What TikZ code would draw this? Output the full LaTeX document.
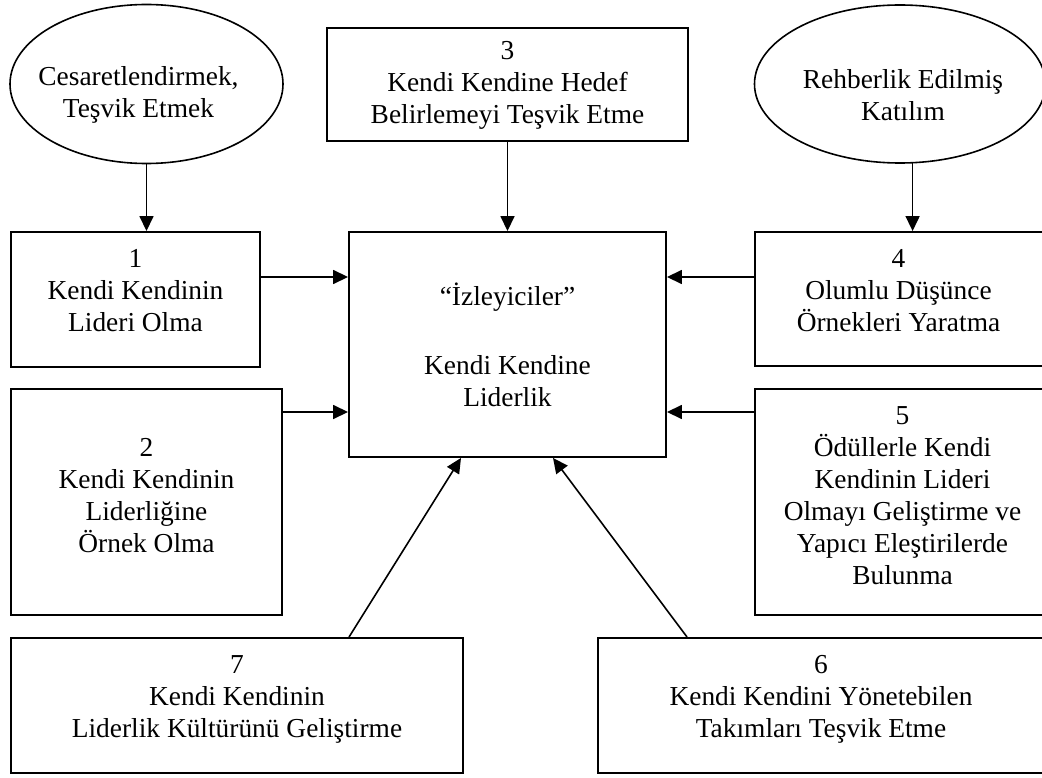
\documentclass[tikz,border=0pt]{standalone}
\usepackage{fontspec}
\setmainfont{Liberation Serif}
\usetikzlibrary{arrows.meta,shapes.geometric}

\tikzset{
  txt/.style={align=center, font=\fontsize{27.4}{32}\selectfont, inner sep=0pt},
  panel/.style={draw, line width=1.9pt, rectangle, inner sep=0pt},
  oval/.style={draw, line width=1.6pt, ellipse, inner sep=0pt},
  arr/.style={line width=1.6pt, -{Triangle[length=15pt,width=14pt]}},
}

\begin{document}
\begin{tikzpicture}[x=1pt,y=-1pt]
\useasboundingbox (0,0) rectangle (1042,778);
\clip (0,0) rectangle (1042,778);

% motivating ovals
\node[oval, minimum width=273pt, minimum height=159pt,
      label={[txt,xshift=-8pt,yshift=-11pt]center:{Cesaretlendirmek,\\Teşvik Etmek}}]
      (e1) at (146.5,84) {};
\node[oval, minimum width=291pt, minimum height=158pt,
      label={[txt,xshift=3pt,yshift=-11pt]center:{Rehberlik Edilmiş\\Katılım}}]
      (e2) at (900,84) {};

% numbered strategy boxes
\node[panel, minimum width=361pt, minimum height=113pt,
      label={[txt,yshift=-1pt]center:{3\\Kendi Kendine Hedef\\Belirlemeyi Teşvik Etme}}]
      (b3) at (507.5,84.5) {};
\node[panel, minimum width=249pt, minimum height=135pt,
      label={[txt,yshift=9pt]center:{1\\Kendi Kendinin\\Lideri Olma}}]
      (b1) at (135.5,299.5) {};
\node[panel, minimum width=271pt, minimum height=226pt,
      label={[txt,yshift=6pt]center:{2\\Kendi Kendinin\\Liderliğine\\Örnek Olma}}]
      (b2) at (146.5,502) {};
\node[panel, minimum width=289pt, minimum height=134pt,
      label={[txt,xshift=-1pt,yshift=8pt]center:{4\\Olumlu Düşünce\\Örnekleri Yaratma}}]
      (b4) at (899.5,299) {};
\node[panel, minimum width=289pt, minimum height=226pt,
      label={[txt,xshift=3pt,yshift=6pt]center:{5\\Ödüllerle Kendi\\Kendinin Lideri\\Olmayı Geliştirme ve\\Yapıcı Eleştirilerde\\Bulunma}}]
      (b5) at (899.5,502) {};
\node[panel, minimum width=452pt, minimum height=135pt,
      label={[txt,yshift=6pt]center:{7\\Kendi Kendinin\\Liderlik Kültürünü Geliştirme}}]
      (b7) at (237,705.5) {};
\node[panel, minimum width=446pt, minimum height=135pt,
      label={[txt,yshift=6pt]center:{6\\Kendi Kendini Yönetebilen\\Takımları Teşvik Etme}}]
      (b6) at (821,705.5) {};

% central box
\node[panel, minimum width=317pt, minimum height=225pt,
      label={[txt]center:{“İzleyiciler”\\[37pt]Kendi Kendine\\Liderlik}}]
      (c) at (507.5,344.5) {};

% connectors
\draw[arr] (e1.south) -- (e1.south |- b1.north);
\draw[arr] (b3.south) -- (c.north);
\draw[arr] (e2.-81) -- (e2.-81 |- b4.north);
\draw[arr] ([yshift=22.5pt]b1.east) -- ([yshift=22.5pt]b1.east -| c.west);
\draw[arr] ([yshift=90pt]b2.east) -- ([yshift=90pt]b2.east -| c.west);
\draw[arr] ([yshift=22pt]b4.west) -- ([yshift=22pt]b4.west -| c.east);
\draw[arr] ([yshift=90pt]b5.west) -- ([yshift=90pt]b5.west -| c.east);
\draw[arr] ([xshift=112pt]b7.north) -- ([xshift=-46.5pt]c.south);
\draw[arr] ([xshift=90pt]b6.north west) -- ([xshift=45.5pt]c.south);
\end{tikzpicture}
\end{document}
